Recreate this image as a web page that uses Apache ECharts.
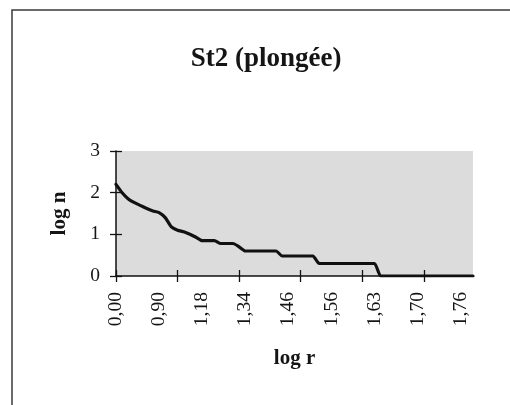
<!DOCTYPE html>
<html>
<head>
<meta charset="utf-8">
<script src="https://cdn.jsdelivr.net/npm/echarts@6/dist/echarts.min.js"></script>
<style>
  html, body { margin: 0; padding: 0; background: #ffffff; }
  #chart { width: 510px; height: 405px; }
</style>
</head>
<body>
<div id="chart"></div>
<script>
// Rank-abundance curve, station St2 (plongée): log n against log r
const logR = [
  '0,00', '0,30', '0,48', '0,60', '0,70', '0,78', '0,85', '0,90', '0,95', '1,00',
  '1,04', '1,08', '1,11', '1,15', '1,18', '1,20', '1,23', '1,26', '1,28', '1,30',
  '1,32', '1,34', '1,36', '1,38', '1,40', '1,41', '1,43', '1,45', '1,46', '1,48',
  '1,49', '1,51', '1,52', '1,53', '1,54', '1,56', '1,57', '1,58', '1,59', '1,60',
  '1,61', '1,62', '1,63', '1,64', '1,65', '1,66', '1,67', '1,68', '1,69', '1,70',
  '1,71', '1,72', '1,72', '1,73', '1,74', '1,75', '1,76', '1,76', '1,77'
];

const logN = [
  2.20, 2.00, 1.85, 1.76, 1.69, 1.62, 1.56, 1.52, 1.40, 1.18,
  1.10, 1.06, 1.00, 0.93, 0.85, 0.85, 0.85, 0.78, 0.78, 0.78,
  0.70, 0.60, 0.60, 0.60, 0.60, 0.60, 0.60, 0.48, 0.48, 0.48,
  0.48, 0.48, 0.48, 0.30, 0.30, 0.30, 0.30, 0.30, 0.30, 0.30,
  0.30, 0.30, 0.30, 0, 0, 0, 0, 0, 0, 0,
  0, 0, 0, 0, 0, 0, 0, 0, 0
];

const titleText = 'St2 (plongée)';
const xName = 'log r';
const yName = 'log n';

const serif = '"Liberation Serif", "Times New Roman", serif';
const ink = '#151515';

const chart = echarts.init(document.getElementById('chart'), null, { renderer: 'canvas' });

chart.setOption({
  backgroundColor: '#ffffff',
  animation: false,
  graphic: [{
    type: 'rect',
    shape: { x: 12, y: 10, width: 620, height: 520 },
    style: { fill: 'none', stroke: '#3a3a3a', lineWidth: 1.5 },
    silent: true
  }],
  title: {
    text: titleText,
    left: 261,
    top: 41,
    textAlign: 'center',
    textStyle: { fontFamily: serif, fontWeight: 'bold', fontSize: 27, color: ink }
  },
  grid: {
    left: 116, right: 37, top: 151, bottom: 129,
    show: true, backgroundColor: '#dcdcdc', borderWidth: 0
  },
  xAxis: [{
    type: 'category',
    data: logR,
    boundaryGap: false,
    position: 'bottom',
    name: xName,
    nameLocation: 'middle',
    nameGap: 72,
    nameTextStyle: { fontFamily: serif, fontWeight: 'bold', fontSize: 21, color: ink },
    axisLine: { show: true, lineStyle: { color: '#111', width: 1.5 } },
    axisTick: { show: true, interval: 9, length: 6, lineStyle: { color: '#111', width: 1.3 } },
    axisLabel: {
      interval: 6, rotate: 90, margin: 16,
      fontFamily: serif, fontSize: 19.5, color: ink
    },
    splitLine: { show: false }
  }, {
    type: 'category',
    data: logR,
    boundaryGap: false,
    position: 'bottom',
    axisLine: { show: false },
    axisTick: { show: true, inside: true, interval: 9, length: 6, lineStyle: { color: '#111', width: 1.3 } },
    axisLabel: { show: false },
    splitLine: { show: false }
  }],
  yAxis: [{
    type: 'value',
    min: 0, max: 3, interval: 1,
    position: 'left',
    name: yName,
    nameLocation: 'middle',
    nameRotate: 90,
    nameGap: 46,
    nameTextStyle: { fontFamily: serif, fontWeight: 'bold', fontSize: 21, color: ink },
    axisLine: { show: true, lineStyle: { color: '#111', width: 1.5 } },
    axisTick: { show: true, length: 6, lineStyle: { color: '#111', width: 1.3 } },
    axisLabel: { margin: 16, fontFamily: serif, fontSize: 19.5, color: ink },
    splitLine: { show: false }
  }, {
    type: 'value',
    min: 0, max: 3, interval: 1,
    position: 'left',
    axisLine: { show: false },
    axisTick: { show: true, inside: true, length: 6, lineStyle: { color: '#111', width: 1.3 } },
    axisLabel: { show: false },
    splitLine: { show: false }
  }],
  series: [{
    type: 'line',
    xAxisIndex: 0,
    yAxisIndex: 0,
    data: logN,
    showSymbol: false,
    smooth: 0.2,
    lineStyle: { color: '#111', width: 3.2, join: 'round', cap: 'round' }
  }]
});
</script>
</body>
</html>
